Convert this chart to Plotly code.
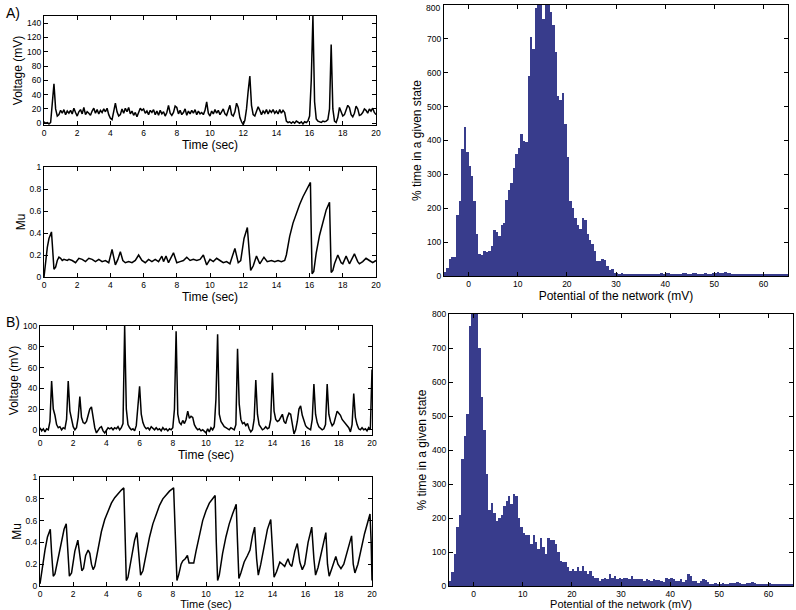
import numpy as np
import plotly.graph_objects as go

FONT = "Liberation Sans, Arial, Helvetica, sans-serif"
BAR_COLOR = "#383c8c"

# ---------------- data ----------------
# Panel A voltage, sampled every 0.1 s from 0 to 20 s
volt_a = [2, 0, 1, -1, 1, 30, 55, 20, 10, 12,
          18, 14, 19, 12, 17, 14, 18, 13, 21, 15,
          10, 16, 19, 13, 22, 12, 16, 14, 11, 17,
          21, 14, 19, 13, 18, 15, 20, 16, 21, 12,
          7, 5, 18, 28, 16, 10, 12, 20, 14, 21,
          16, 22, 13, 17, 11, 15, 9, 14, 21, 18,
          20, 14, 17, 12, 18, 15, 19, 12, 17, 11,
          18, 13, 16, 10, 15, 25, 14, 11, 15, 24,
          22, 13, 18, 12, 15, 20, 11, 17, 13, 18,
          14, 19, 12, 17, 13, 15, 12, 18, 30, 14,
          10, 17, 13, 19, 14, 18, 12, 16, 20, 13,
          11, 18, 25, 12, 10, 16, 28, 22, 8, 2,
          -2, 4, 20, 45, 66, 25, 12, 10, 16, 23,
          18, 12, 17, 14, 19, 13, 18, 15, 19, 14,
          17, 13, 19, 14, 18, 15, 3, 1, 2, 0,
          2, 0, 3, 1, 0, 2, -1, 2, 1, 3,
          10, 60, 150, 30, 6, 3, 2, 1, 3, 2,
          3, 5, 20, 110, 20, 3, 1, 8, 22, 15,
          10, 12, 18, 25, 22, 12, 9, 14, 24, 20,
          11, 12, 15, 20, 18, 14, 20, 17, 21, 15, 12]

mu_a_t = [0.0, 0.1, 0.2, 0.3, 0.4, 0.45, 0.5, 0.55, 0.6, 0.7, 0.8, 0.9, 1.0, 1.1, 1.2,
          1.4, 1.5, 1.7, 1.9, 2.1, 2.3, 2.5, 2.7, 2.9, 3.1, 3.3, 3.5, 3.7, 3.9, 4.1,
          4.3, 4.45, 4.6, 4.75, 4.9, 5.1, 5.3, 5.5, 5.7, 5.9, 6.1, 6.3, 6.5, 6.7, 6.9,
          7.1, 7.2, 7.35, 7.5, 7.8, 8.0, 8.2, 8.4, 8.6, 8.8, 9.0, 9.2, 9.4, 9.6, 9.8,
          10.0, 10.2, 10.4, 10.6, 10.8, 11.0, 11.2, 11.5, 11.7, 11.85, 12.05, 12.25,
          12.35, 12.45, 12.6, 12.8, 13.0, 13.25, 13.45, 13.7, 13.9, 14.1, 14.3, 14.5,
          14.6, 14.8, 15.0, 15.2, 15.4, 15.6, 15.8, 16.0, 16.05, 16.1, 16.15, 16.25,
          16.4, 16.6, 16.8, 17.0, 17.2, 17.25, 17.3, 17.4, 17.5, 17.7, 17.9, 18.0,
          18.2, 18.4, 18.7, 18.9, 19.0, 19.2, 19.4, 19.6, 19.8, 20.0]
mu_a = [0.0, 0.15, 0.27, 0.35, 0.40, 0.41, 0.30, 0.10, 0.07, 0.09, 0.15, 0.18, 0.17, 0.15, 0.16,
        0.15, 0.16, 0.15, 0.13, 0.17, 0.16, 0.14, 0.17, 0.16, 0.14, 0.16, 0.14, 0.15, 0.13, 0.25,
        0.11, 0.16, 0.23, 0.15, 0.13, 0.14, 0.13, 0.15, 0.20, 0.15, 0.13, 0.16, 0.14, 0.16, 0.14,
        0.19, 0.14, 0.19, 0.13, 0.22, 0.13, 0.14, 0.15, 0.18, 0.15, 0.16, 0.15, 0.16, 0.20, 0.11,
        0.16, 0.14, 0.17, 0.15, 0.13, 0.14, 0.12, 0.26, 0.13, 0.15, 0.35, 0.45,
        0.25, 0.06, 0.10, 0.19, 0.12, 0.18, 0.14, 0.15, 0.14, 0.15, 0.14, 0.15,
        0.20, 0.37, 0.49, 0.58, 0.66, 0.73, 0.79, 0.85, 0.86, 0.40, 0.03, 0.05,
        0.22, 0.38, 0.51, 0.61, 0.68, 0.40, 0.04, 0.06, 0.12, 0.20, 0.13, 0.12,
        0.19, 0.12, 0.21, 0.14, 0.12, 0.14, 0.17, 0.15, 0.13, 0.15]

# Panel B voltage, sampled every 0.1 s from 0 to 20 s
volt_b = [2, -1, 1, -2, 1, 0, 8, 47, 20, 14,
          5, 2, 3, 0, 2, 1, 10, 47, 18, 10,
          3, 0, 2, 12, 32, 12, 7, 6, 8, 14,
          20, 22, 12, 2, -3, 0, 2, 3, -1, -3,
          0, 2, 1, 2, 0, 2, 1, 3, 0, 2,
          6, 100, 20, 5, 2, 0, 1, -1, 4, 20,
          42, 15, 7, 3, 1, 2, 0, 3, 1, 0,
          2, 0, 1, -1, 2, 0, 1, -1, 1, 0,
          2, 20, 95, 15, 7, 5, 9, 6, 10, 18,
          11, 13, 12, 5, 2, 0, 1, -1, 0, -2,
          -3, 1, -2, 2, 0, 3, 30, 92, 15, 8,
          5, 3, 2, 1, 0, 2, 1, 0, 5, 78,
          25, 10, 6, 7, 4, 6, 1, -2, 0, 10,
          48, 15, 5, 2, 0, 1, 3, 1, 2, 10,
          55, 18, 10, 8, 9, 12, 15, 8, 6, 12,
          16, 15, 4, -4, 0, 8, 20, 23, 14, 8,
          4, 2, 1, 0, 10, 44, 15, 7, 3, 1,
          0, 1, 5, 44, 15, 8, 4, 6, 12, 18,
          16, 14, 10, 8, 5, 3, 2, -2, 5, 35,
          12, 5, 1, 0, 2, 0, 1, -1, 2, 0, 58]

mu_b_t = [0.0, 0.15, 0.3, 0.45, 0.62, 0.7, 0.8, 0.9, 1.1, 1.3, 1.45, 1.58, 1.68, 1.77, 1.9,
          2.1, 2.28, 2.4, 2.52, 2.62, 2.75, 2.9, 3.0, 3.1, 3.2, 3.3, 3.5, 3.7, 3.9, 4.1,
          4.3, 4.5, 4.7, 4.9, 5.05, 5.12, 5.2, 5.3, 5.5, 5.7, 5.84, 5.95, 6.06, 6.2, 6.4,
          6.6, 6.8, 7.0, 7.2, 7.4, 7.6, 7.8, 8.05, 8.15, 8.25, 8.35, 8.5, 8.6, 8.75, 8.88,
          8.98, 9.1, 9.26, 9.4, 9.6, 9.8, 10.0, 10.2, 10.4, 10.55, 10.62, 10.7, 10.8, 11.0,
          11.2, 11.4, 11.6, 11.82, 11.9, 11.98, 12.1, 12.3, 12.5, 12.65, 12.8, 12.93, 13.05,
          13.15, 13.3, 13.5, 13.7, 13.9, 14.0, 14.1, 14.25, 14.45, 14.6, 14.74, 14.94, 15.05,
          15.17, 15.35, 15.5, 15.65, 15.8, 15.95, 16.15, 16.37, 16.5, 16.6, 16.75, 16.95,
          17.1, 17.22, 17.32, 17.42, 17.6, 17.82, 17.95, 18.13, 18.3, 18.5, 18.65, 18.77,
          18.87, 18.97, 19.15, 19.35, 19.55, 19.75, 19.88, 19.95, 20.0]
mu_b = [0.02, 0.2, 0.33, 0.45, 0.52, 0.3, 0.09, 0.11, 0.25, 0.42, 0.52, 0.57, 0.3, 0.09, 0.12,
        0.32, 0.42, 0.25, 0.14, 0.16, 0.28, 0.33, 0.3, 0.2, 0.15, 0.18, 0.35, 0.5, 0.61, 0.69,
        0.76, 0.81, 0.85, 0.88, 0.9, 0.4, 0.05, 0.08, 0.25, 0.42, 0.49, 0.25, 0.1, 0.14, 0.3,
        0.45, 0.57, 0.66, 0.74, 0.8, 0.84, 0.87, 0.9, 0.4, 0.05, 0.1, 0.2, 0.23, 0.25, 0.28,
        0.21, 0.21, 0.21, 0.32, 0.47, 0.6, 0.69, 0.76, 0.8, 0.83, 0.4, 0.05, 0.1, 0.3,
        0.45, 0.57, 0.66, 0.75, 0.4, 0.07, 0.12, 0.22, 0.28, 0.33, 0.46, 0.54, 0.25,
        0.1, 0.2, 0.38, 0.52, 0.61, 0.3, 0.08, 0.13, 0.22, 0.2, 0.18, 0.25, 0.2,
        0.18, 0.32, 0.39, 0.22, 0.15, 0.2, 0.4, 0.54, 0.25, 0.1, 0.17, 0.32,
        0.43, 0.49, 0.2, 0.09, 0.17, 0.27, 0.2, 0.16, 0.2, 0.31, 0.41, 0.46,
        0.2, 0.12, 0.2, 0.35, 0.48, 0.59, 0.66, 0.4, 0.05]

# Histograms: 0.5 mV bins from -5 to 65 mV
bin_start = -5.0
bin_width = 0.5
hist_a = [12, 25, 50, 55, 55, 180, 220, 375, 440, 365,
          325, 295, 220, 125, 65, 62, 75, 70, 75, 90,
          135, 130, 118, 150, 155, 225, 255, 275, 320, 360,
          378, 420, 400, 395, 590, 705, 670, 790, 810, 810,
          760, 810, 810, 780, 740, 660, 530, 520, 540, 450,
          350, 220, 200, 170, 150, 140, 170, 165, 125, 105,
          95, 75, 45, 45, 50, 48, 30, 18, 20, 8,
          8, 7, 8, 6, 7, 6, 5, 6, 5, 6,
          5, 6, 7, 6, 5, 7, 6, 6, 8, 7,
          9, 10, 7, 6, 5, 6, 7, 8, 9, 7,
          6, 8, 9, 7, 6, 7, 8, 7, 6, 8,
          10, 11, 9, 10, 12, 10, 9, 7, 6, 5,
          6, 5, 4, 5, 6, 4, 5, 6, 5, 4,
          5, 6, 4, 5, 6, 5, 4, 5, 6, 5]
hist_b = [15, 40, 95, 175, 210, 375, 440, 505, 765, 820,
          820, 820, 700, 555, 460, 330, 225, 245, 215, 190,
          200, 210, 235, 250, 265, 240, 270, 265, 200, 175,
          155, 150, 150, 125, 150, 130, 110, 140, 115, 95,
          140, 135, 135, 125, 100, 75, 70, 70, 55, 45,
          50, 45, 55, 45, 60, 45, 35, 45, 30, 25,
          25, 15, 20, 25, 20, 35, 25, 30, 20, 25,
          20, 25, 25, 20, 28, 20, 22, 20, 20, 15,
          20, 18, 15, 20, 18, 18, 15, 12, 25, 20,
          25, 20, 15, 15, 20, 12, 18, 35, 30, 15,
          15, 10, 15, 22, 18, 12, 5, 5, 8, 6,
          7, 8, 6, 7, 8, 9, 10, 12, 8, 6,
          7, 8, 10, 12, 9, 6, 5, 4, 6, 5,
          8, 5, 4, 5, 4, 5, 4, 5, 6, 4]

# ---------------- derived scales ----------------
t_grid = np.round(np.arange(len(volt_a)) * 0.1, 1)
bin_centers = bin_start + bin_width * (np.arange(len(hist_a)) + 0.5)

W, H = 796, 610


def px_dom_x(a, b):
    return [a / W, b / W]


def px_dom_y(top, bottom):
    return [1 - bottom / H, 1 - top / H]


def axis(title, domain, rng, tickvals=None, ticktext=None, anchor=None, standoff=4, tsize=12):
    d = dict(
        domain=domain, range=rng, showline=True, linecolor="black", linewidth=1,
        mirror="allticks", ticks="inside", ticklen=4, tickcolor="black", tickwidth=1,
        showgrid=False, zeroline=False, fixedrange=True, automargin=False,
        tickfont=dict(family=FONT, size=8.5, color="black"),
        title=dict(text=title, font=dict(family=FONT, size=tsize, color="black"), standoff=standoff),
        anchor=anchor,
    )
    if tickvals is not None:
        d["tickmode"] = "array"
        d["tickvals"] = tickvals
        if ticktext is not None:
            d["ticktext"] = ticktext
    return d


fig = go.Figure()
line = dict(color="black", width=1.5)
fig.add_trace(go.Scatter(x=t_grid, y=volt_a, mode="lines", line=line, xaxis="x", yaxis="y", showlegend=False))
fig.add_trace(go.Scatter(x=mu_a_t, y=mu_a, mode="lines", line=line, xaxis="x2", yaxis="y2", showlegend=False))
fig.add_trace(go.Bar(x=bin_centers, y=hist_a, width=bin_width, marker=dict(color=BAR_COLOR, line=dict(width=0)),
                     xaxis="x3", yaxis="y3", showlegend=False))
fig.add_trace(go.Scatter(x=t_grid, y=volt_b, mode="lines", line=line, xaxis="x4", yaxis="y4", showlegend=False))
fig.add_trace(go.Scatter(x=mu_b_t, y=mu_b, mode="lines", line=line, xaxis="x5", yaxis="y5", showlegend=False))
fig.add_trace(go.Bar(x=bin_centers, y=hist_b, width=bin_width, marker=dict(color=BAR_COLOR, line=dict(width=0)),
                     xaxis="x6", yaxis="y6", showlegend=False))

t_ticks = list(range(0, 21, 2))
mu_ticks = [0, 0.2, 0.4, 0.6, 0.8, 1]
mu_text = ["0", "0.2", "0.4", "0.6", "0.8", "1"]
h_xticks = [0, 10, 20, 30, 40, 50, 60]
h_yticks = list(range(0, 801, 100))

ya3 = axis("% time in a given state", px_dom_y(5, 276), [0, 800], h_yticks, anchor="x3", standoff=2)
# top label of panel A histogram sits at the page edge; draw its text as an annotation
ya3["ticktext"] = [str(v) for v in h_yticks[:-1]] + [""]

fig.update_layout(
    width=W, height=H, margin=dict(l=0, r=0, t=0, b=0, autoexpand=False),
    paper_bgcolor="white", plot_bgcolor="white", bargap=0,
    font=dict(family=FONT, color="black"),
    xaxis=axis("Time (sec)", px_dom_x(44, 376), [0, 20], t_ticks, anchor="y", standoff=2),
    yaxis=axis("Voltage (mV)", px_dom_y(16, 125), [-2.5, 150], list(range(0, 141, 20)), anchor="x", standoff=1),
    xaxis2=axis("Time (sec)", px_dom_x(44, 376), [0, 20], t_ticks, anchor="y2", standoff=2),
    yaxis2=axis("Mu", px_dom_y(167, 277), [0, 1], mu_ticks, mu_text, anchor="x2", standoff=1),
    xaxis3=axis("Potential of the network (mV)", px_dom_x(444, 788), [-5, 65], h_xticks, anchor="y3", standoff=2),
    yaxis3=ya3,
    xaxis4=axis("Time (sec)", px_dom_x(40, 372), [0, 20], t_ticks, anchor="y4", standoff=2),
    yaxis4=axis("Voltage (mV)", px_dom_y(326, 435), [-5, 100], list(range(0, 101, 20)), anchor="x4", standoff=1),
    xaxis5=axis("Time (sec)", px_dom_x(40, 372), [0, 20], t_ticks, anchor="y5", standoff=1, tsize=11),
    yaxis5=axis("Mu", px_dom_y(477, 586), [0, 1], mu_ticks, mu_text, anchor="x5", standoff=1),
    xaxis6=axis("Potential of the network (mV)", px_dom_x(449, 793), [-5, 65], h_xticks, anchor="y6", standoff=1, tsize=11),
    yaxis6=axis("% time in a given state", px_dom_y(314, 586), [0, 800], h_yticks, anchor="x6", standoff=2),
    annotations=[
        dict(text="A)", x=4 / W, y=1 - 3 / H, xref="paper", yref="paper", xanchor="left", yanchor="top",
             showarrow=False, font=dict(family=FONT, size=14, color="black")),
        dict(text="B)", x=4 / W, y=1 - 312 / H, xref="paper", yref="paper", xanchor="left", yanchor="top",
             showarrow=False, font=dict(family=FONT, size=14, color="black")),
        dict(text=str(h_yticks[-1]), x=444 / W, y=h_yticks[-1], xref="paper", yref="y3",
             xanchor="right", yanchor="top", xshift=-2, yshift=4, showarrow=False,
             font=dict(family=FONT, size=8.5, color="black")),
    ],
)

fig.write_html(
    "out.html",
    config={"displayModeBar": False},
    post_script="document.body.style.margin='0';document.body.style.padding='0';"
                "document.body.style.overflow='hidden';",
)
